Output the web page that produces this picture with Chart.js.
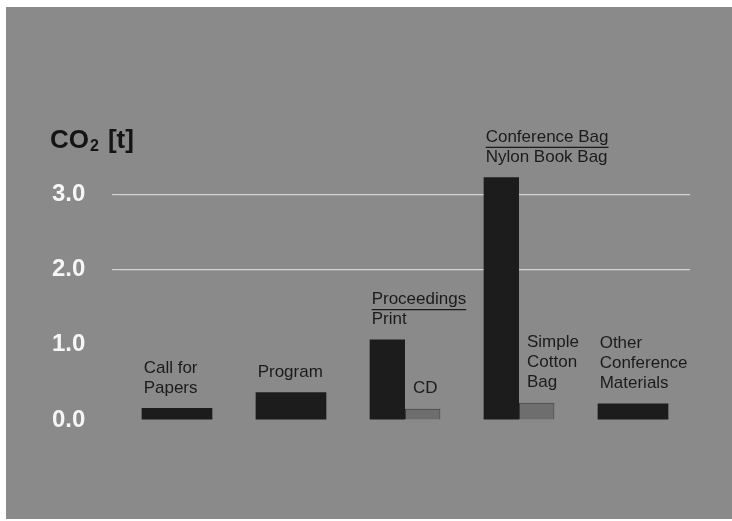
<!DOCTYPE html>
<html>
<head>
<meta charset="utf-8">
<script src="https://cdn.jsdelivr.net/npm/chart.js@4"></script>
<style>
  html, body { margin: 0; background: #fff; }
  #wrap { position: absolute; left: 6px; top: 7px; width: 726px; height: 512px; background: #8a8a8a; }
</style>
</head>
<body>
<div id="wrap"><canvas id="co2Chart" width="726" height="512"></canvas></div>
<script>
const categories = ["Call for Papers", "Program", "Proceedings", "Conference Bag", "Other Conference Materials"];
const mainValues = [0.16, 0.37, 1.07, 3.23, 0.22];
const altValues = [null, null, 0.15, 0.23, null];
const mainLabels = [["Call for", "Papers"], ["Program"], ["Print"], ["Nylon Book Bag"], ["Other", "Conference", "Materials"]];
const altLabels = [null, null, ["CD"], ["Simple", "Cotton", "Bag"], null];
const groupHeaders = [null, null, "Proceedings", "Conference Bag", null];
const yTicks = [0, 1, 2, 3];
const gridTicks = [2, 3];

const textFont = "17px 'Liberation Sans', Arial, sans-serif";

// labels written above the bars, header underlined
const barNotes = {
  id: "barNotes",
  afterDatasetsDraw(chart) {
    const ctx = chart.ctx;
    ctx.save();
    ctx.font = textFont;
    ctx.fillStyle = "#1b1b1b";
    ctx.strokeStyle = "#1b1b1b";
    ctx.lineWidth = 1.3;
    ctx.textBaseline = "middle";
    ctx.textAlign = "left";
    const sets = [{ labels: mainLabels, shift: 2 }, { labels: altLabels, shift: 8 }];
    sets.forEach((set, di) => {
      const meta = chart.getDatasetMeta(di);
      set.labels.forEach((lines, i) => {
        if (!lines) return;
        const bar = meta.data[i];
        const x = bar.x - bar.width / 2 + set.shift;
        let y = bar.y - 20;
        for (let k = lines.length - 1; k >= 0; k--) {
          ctx.fillText(lines[k], x, y);
          y -= 20;
        }
        if (di === 0 && groupHeaders[i]) {
          ctx.fillText(groupHeaders[i], x, y);
          const w = ctx.measureText(groupHeaders[i]).width;
          ctx.beginPath();
          ctx.moveTo(x, y + 10);
          ctx.lineTo(x + w, y + 10);
          ctx.stroke();
        }
      });
    });
    ctx.restore();
  },
};

// "CO2 [t]" axis caption with subscript
const unitTitle = {
  id: "unitTitle",
  afterDraw(chart) {
    const ctx = chart.ctx;
    const left = chart.scales.y.left - 2;
    const y = chart.scales.y.getPixelForValue(3) - 54;
    ctx.save();
    ctx.fillStyle = "#141414";
    ctx.textBaseline = "middle";
    ctx.textAlign = "left";
    ctx.font = "bold 26px 'Liberation Sans', Arial, sans-serif";
    ctx.fillText("CO", left, y);
    let x = left + ctx.measureText("CO").width + 1;
    ctx.font = "bold 16px 'Liberation Sans', Arial, sans-serif";
    ctx.fillText("2", x, y + 6);
    x += ctx.measureText("2").width + 9;
    ctx.font = "bold 26px 'Liberation Sans', Arial, sans-serif";
    ctx.fillText("[t]", x, y);
    ctx.restore();
  },
};

const ctx = document.getElementById("co2Chart");
new Chart(ctx, {
  type: "bar",
  data: {
    labels: categories,
    datasets: [
      {
        label: "main",
        data: mainValues,
        backgroundColor: "#1c1c1c",
        borderWidth: 0,
      },
      {
        label: "alternative",
        data: altValues,
        backgroundColor: "#6e6e6e",
        borderColor: "#3c3c3c",
        borderWidth: 1,
      },
    ],
  },
  options: {
    responsive: false,
    animation: false,
    skipNull: true,
    categoryPercentage: 0.62,
    barPercentage: 1.0,
    layout: { padding: { left: 46, right: 42, top: 150, bottom: 99 } },
    plugins: {
      legend: { display: false },
      tooltip: { enabled: false },
    },
    scales: {
      x: {
        display: false,
      },
      y: {
        min: 0,
        max: 3.5,
        afterBuildTicks: (scale) => {
          scale.ticks = yTicks.map((v) => ({ value: v }));
        },
        afterFit: (scale) => {
          scale.width = 68;
        },
        border: { display: false },
        grid: {
          color: (c) => (c.tick && gridTicks.includes(c.tick.value) ? "rgba(225,225,225,0.85)" : "rgba(0,0,0,0)"),
          lineWidth: 1.2,
          drawTicks: true,
          tickLength: 8,
        },
        ticks: {
          crossAlign: "far",
          color: "#f6f6f6",
          font: { family: "'Liberation Sans', Arial, sans-serif", size: 24, weight: "bold" },
          callback: (v) => Number(v).toFixed(1),
        },
      },
    },
  },
  plugins: [barNotes, unitTitle],
});
</script>
</body>
</html>
